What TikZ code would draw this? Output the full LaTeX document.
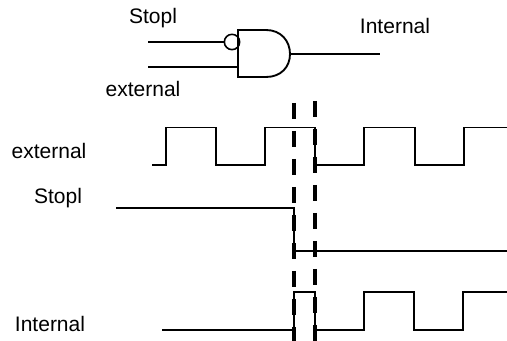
\documentclass[tikz,border=0pt]{standalone}
\usepackage{fontspec}
\setmainfont{Liberation Sans}
\usetikzlibrary{positioning,calc}

\begin{document}
\begin{tikzpicture}[
    x=0.75pt, y=-0.75pt,
    lbl/.style={inner sep=0pt, font=\fontsize{15.75}{18}\selectfont},
    wire/.style={line width=1.4pt, line join=miter},
    thinwire/.style={line width=0.8pt},
    cut/.style={line width=3pt, dash pattern=on 12pt off 9pt}
]
    \useasboundingbox (0,0) rectangle (507,341);

    % gate
    \coordinate (gatetl) at (238,30);
    \coordinate (gatetr) at (266,30);
    \coordinate (gatebl) at (238,77);
    \coordinate (gatebr) at (266,77);
    \coordinate (gateout) at (290,54);
    \coordinate (gatein) at (238,67);
    \node[circle, draw, line width=1.2pt, minimum size=11.5pt, inner sep=0pt] (bubble) at (232,42) {};
    \draw[wire] (gatetl) -- (gatetr) .. controls (281,30) and (290,41) .. (gateout)
        .. controls (290,67) and (281,77) .. (gatebr) -- (gatebl) -- cycle;

    \coordinate (stopin) at (148,42);
    \coordinate (extin) at (148,67);
    \coordinate (extmid) at (202,67);
    \coordinate (intout) at (380,54);
    \draw[wire] (stopin) -- (bubble);
    \draw[thinwire] (extin) -- (extmid);
    \draw[wire] (extmid) -- (gatein);
    \draw[wire] (gateout) -- (intout);

    % labels
    \node[lbl] (lstop) at (153,18) {Stopl};
    \node[lbl] (lext) at (143,89) {external};
    \node[lbl] (lint) at (395,26) {Internal};
    \node[lbl] (wext) at (49,151) {external};
    \node[lbl] (wstop) at (58,198) {Stopl};
    \node[lbl] (wint) at (50,324) {Internal};

    % waveforms
    \draw[wire] (152,165) -- (166,165) -- (166,127.5) -- (216,127.5) -- (216,165) -- (265,165)
        -- (265,127.5) -- (315,127.5) -- (315,165) -- (364,165) -- (364,127.5) -- (415,127.5)
        -- (415,165) -- (464,165) -- (464,127.5) -- (507,127.5);
    \draw[wire] (116,208) -- (294,208) -- (294,251) -- (507,251);
    \draw[wire] (162,330) -- (294,330) -- (294,292) -- (315,292) -- (315,330) -- (364,330)
        -- (364,292) -- (414,292) -- (414,330) -- (463,330) -- (463,292) -- (507,292);

    % cuts
    \coordinate (cutatop) at (294,103);
    \coordinate (cutabot) at (294,341);
    \coordinate (cutbtop) at (315,101);
    \coordinate (cutbbot) at (315,341);
    \draw[cut] (cutatop) -- (cutabot);
    \draw[cut, line width=2.6pt] (cutbtop) -- (cutbbot);
\end{tikzpicture}
\end{document}
